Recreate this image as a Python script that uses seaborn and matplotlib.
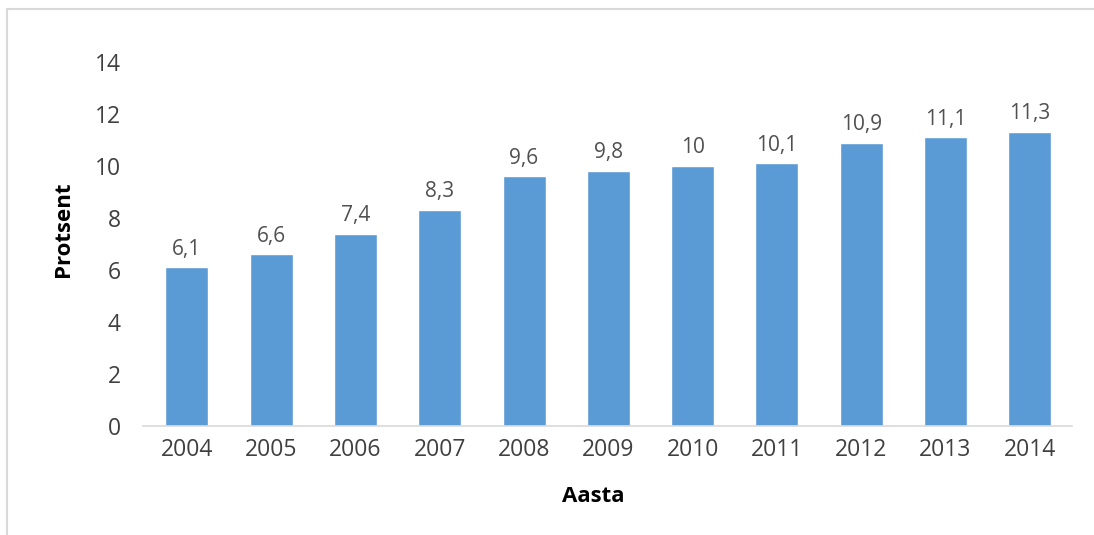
import matplotlib
matplotlib.use('Agg')
import matplotlib.pyplot as plt
import seaborn as sns
import pandas as pd
from matplotlib.lines import Line2D

years = ["2004", "2005", "2006", "2007", "2008", "2009",
         "2010", "2011", "2012", "2013", "2014"]
values = [6.1, 6.6, 7.4, 8.3, 9.6, 9.8, 10, 10.1, 10.9, 11.1, 11.3]
y_ticks = [0, 2, 4, 6, 8, 10, 12, 14]

BAR_COLOR = "#5B9BD5"
TEXT_COLOR = "#404040"

sns.set_theme(style="white")
plt.rcParams['font.family'] = ['Open Sans', 'DejaVu Sans']

df = pd.DataFrame({"year": years, "value": values})

fig = plt.figure(figsize=(10.94, 5.35), dpi=100)
ax = fig.add_axes([143 / 1094, 1 - 426 / 535, (1072 - 143) / 1094, (426 - 62) / 535])

sns.barplot(data=df, x="year", y="value", color=BAR_COLOR, width=0.51,
            saturation=1, ax=ax)

for i, v in enumerate(values):
    label = f"{v:g}".replace(".", ",")
    ax.text(i, v + 0.3, label, ha="center", va="bottom",
            fontsize=15, color="#505050")

ax.set_ylim(0, 14)
ax.set_xlim(-0.52, 10.5)
ax.set_yticks(y_ticks)
ax.set_yticklabels([str(t) for t in y_ticks])
ax.tick_params(axis="both", length=0, labelsize=16.5, labelcolor=TEXT_COLOR)
ax.tick_params(axis="y", pad=16)
ax.tick_params(axis="x", pad=9)

for side in ["top", "right", "left"]:
    ax.spines[side].set_visible(False)
ax.spines["bottom"].set_color("#D9D9D9")
ax.spines["bottom"].set_linewidth(1.2)

ax.set_xlabel("Aasta", fontsize=16, fontweight="bold", color="black")
ax.set_ylabel("Protsent", fontsize=16, fontweight="bold", color="black")
ax.xaxis.set_label_coords(0.485, -0.165)
ax.yaxis.set_label_coords(-0.074, 0.54)

# light outer frame (top and left edges only, as in the source)
x0, y0 = 7 / 1094, 1 - 9 / 535
fig.add_artist(Line2D([x0, 1], [y0, y0], transform=fig.transFigure,
                      color="#D9D9D9", linewidth=1.5))
fig.add_artist(Line2D([x0, x0], [0, y0], transform=fig.transFigure,
                      color="#D9D9D9", linewidth=1.5))

fig.savefig("out.png", dpi=100)
plt.close('all')
